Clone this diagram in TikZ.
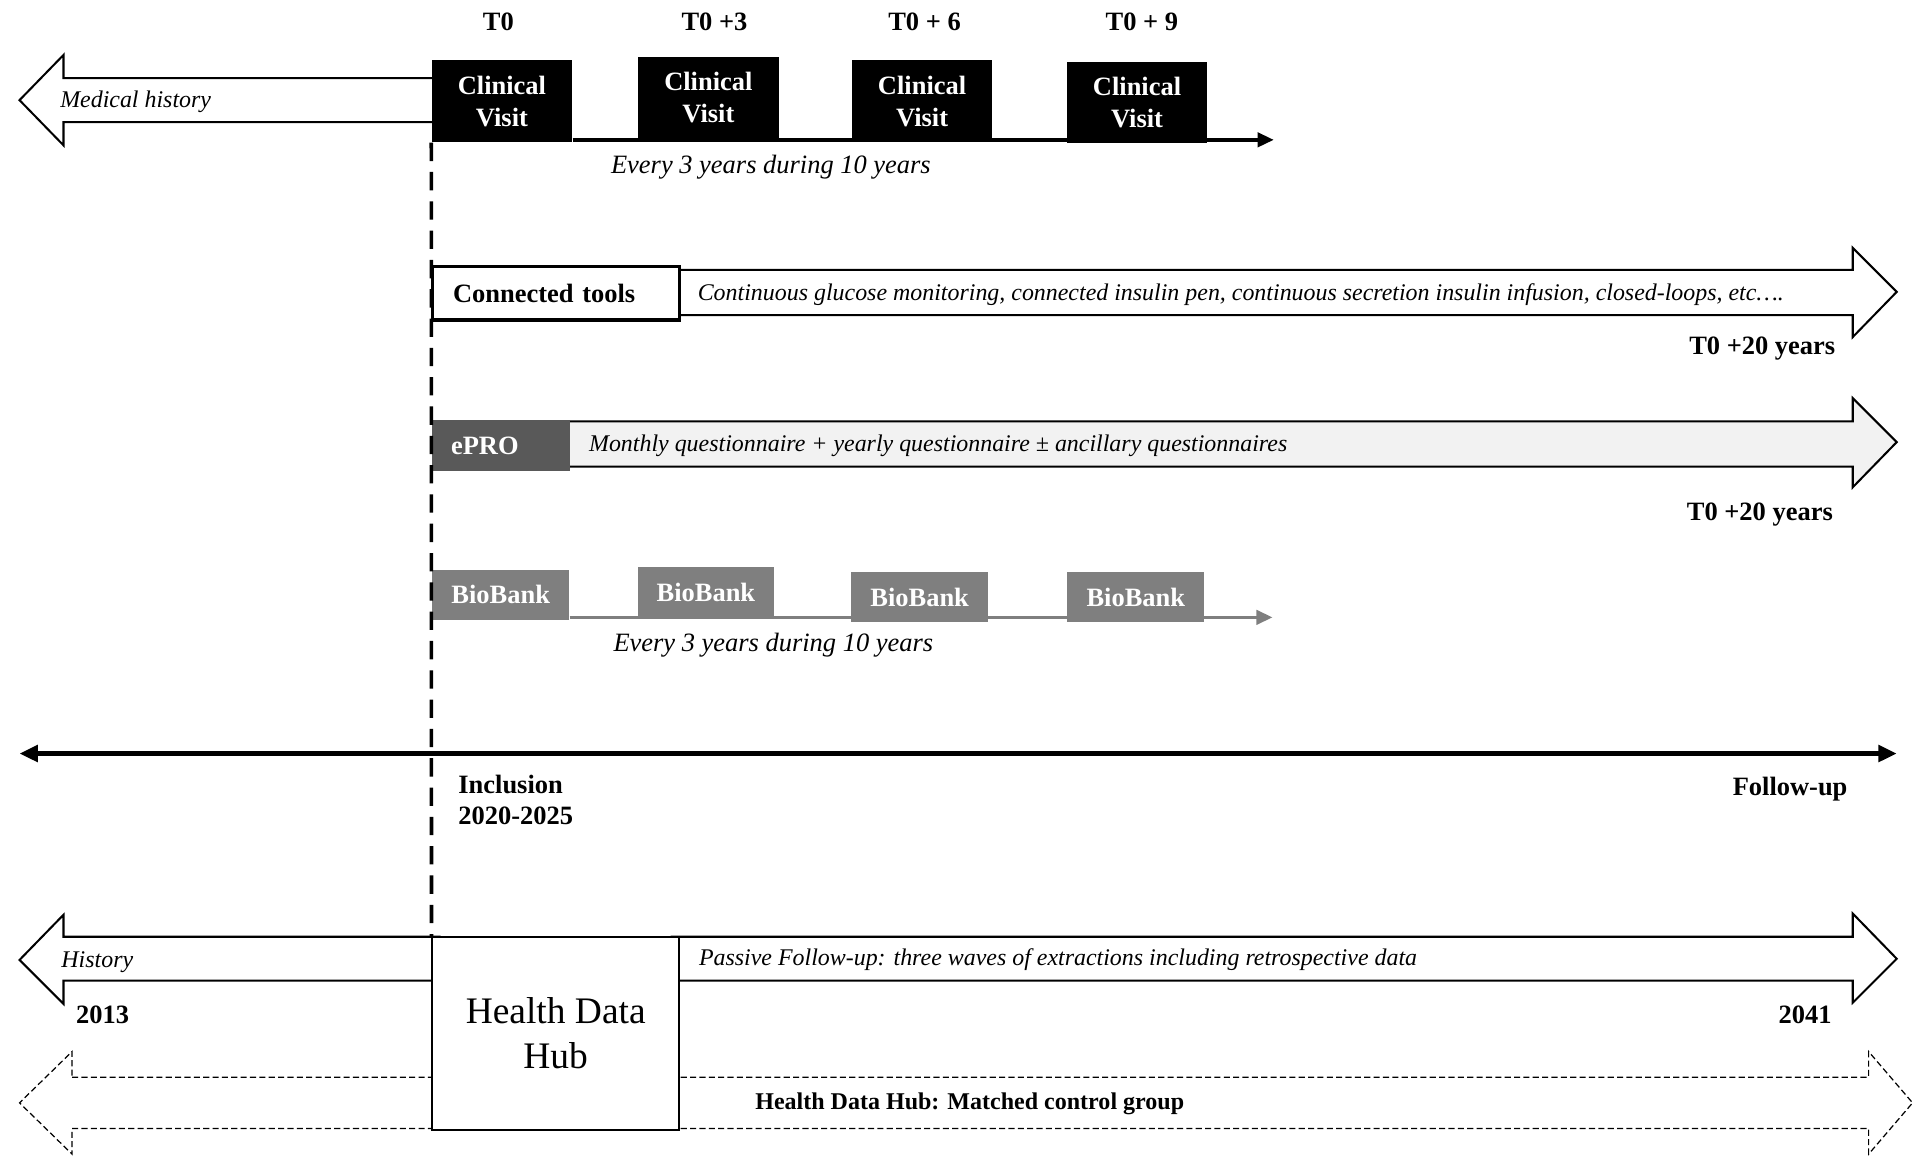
\documentclass[tikz,border=0pt]{standalone}
\usepackage{fontspec}
\setmainfont{Liberation Serif}
\usetikzlibrary{arrows.meta}
\definecolor{eprogray}{HTML}{595959}
\definecolor{bbgray}{HTML}{7F7F7F}
\definecolor{lightfill}{HTML}{F2F2F2}
\begin{document}
\begin{tikzpicture}[x=0.6pt,y=-0.6pt,
  cvbox/.style={fill=black,text=white,font=\bfseries\fontsize{13}{15.6}\selectfont,align=center,inner sep=0pt,minimum width=69pt,minimum height=40.2pt},
  bbbox/.style={fill=bbgray,text=white,font=\bfseries\fontsize{13}{15.6}\selectfont,inner sep=0pt,minimum width=67.2pt,minimum height=24.6pt},
  boldlbl/.style={font=\bfseries\fontsize{13}{15.6}\selectfont,inner sep=0pt},
  itsmall/.style={font=\itshape\fontsize{11.75}{14}\selectfont,inner sep=0pt},
  itbig/.style={font=\itshape\fontsize{13}{15.6}\selectfont,inner sep=0pt},
  blockarrow/.style={draw=black,line width=1pt,line join=miter},
  dasharrow/.style={draw=black,line width=0.6pt,dash pattern=on 3pt off 1.6pt,fill=white},
  cvline/.style={line width=1.8pt,-{Triangle[length=8pt,width=7pt]}},
  bbline/.style={draw=bbgray,line width=1.8pt,-{Triangle[length=8pt,width=7pt]},bbgray},
  tline/.style={line width=2.2pt,{Triangle[length=9pt,width=8pt]}-{Triangle[length=9pt,width=8pt]}},
  incl/.style={line width=1.8pt,dash pattern=on 9pt off 5.4pt}
]
\useasboundingbox (0,0) rectangle (1568,947);

% ---- Medical history arrow
\path[blockarrow,fill=white] (360,64) -- (52,64) -- (52,45) -- (16,82) -- (52,119) -- (52,100) -- (360,100) -- cycle;

% ---- Clinical visits
\node[cvbox] (cv1) at (411,83) {Clinical\\Visit};
\node[cvbox] (cv2) at (580,80) {Clinical\\Visit};
\node[cvbox] (cv3) at (755,83) {Clinical\\Visit};
\node[cvbox] (cv4) at (931,84) {Clinical\\Visit};
\coordinate (cvend) at (1043,114.5);
\draw[cvline] (cv1.east |- cvend) -- (cvend);

\node[boldlbl] (t0) at (408,18) {T0};
\node[boldlbl] (t3) at (585,18) {T0 +3};
\node[boldlbl] (t6) at (757,18) {T0 + 6};
\node[boldlbl] (t9) at (935,18) {T0 + 9};
\node[itsmall,anchor=west] (mh) at (49,83.5) {Medical history};
\node[itbig,anchor=west] (ev1) at (500,137) {Every 3 years during 10 years};

% ---- Connected tools
\path[blockarrow,fill=white] (550,221) -- (1517,221) -- (1517,203) -- (1553,239) -- (1517,276) -- (1517,258) -- (550,258) -- cycle;
\node[draw=black,line width=1.5pt,fill=white,anchor=west,minimum height=26.4pt,text width=101.2pt,inner xsep=10pt,inner ysep=0pt,align=left,font=\bfseries\fontsize{13}{15.6}\selectfont] (ct) at (353,240) {Connected tools};
\node[itsmall,anchor=west] (cttext) at (571,241) {Continuous glucose monitoring, connected insulin pen, continuous secretion insulin infusion, closed-loops, etc….};
\node[boldlbl,anchor=east] (t20a) at (1503,285) {T0 +20 years};

% ---- ePRO
\path[blockarrow,fill=lightfill] (460,345) -- (1517,345) -- (1517,326) -- (1553,362) -- (1517,399) -- (1517,382) -- (460,382) -- cycle;
\node[fill=eprogray,text=white,anchor=west,minimum height=25.2pt,text width=48.6pt,inner xsep=9.6pt,inner ysep=0pt,align=left,font=\bfseries\fontsize{13}{15.6}\selectfont] (epro) at (353,365) {ePRO};
\node[itsmall,anchor=west] (eprotext) at (482,365) {Monthly questionnaire + yearly questionnaire ± ancillary questionnaires};
\node[boldlbl,anchor=east] (t20b) at (1501,421) {T0 +20 years};

% ---- BioBank
\node[bbbox] (bb1) at (410,487) {BioBank};
\node[bbbox] (bb2) at (578,485) {BioBank};
\node[bbbox] (bb3) at (753,489) {BioBank};
\node[bbbox] (bb4) at (930,489) {BioBank};
\coordinate (bbend) at (1042,505.5);
\draw[bbline] (bb1.east |- bbend) -- (bbend);
\node[itbig,anchor=west] (ev2) at (502,528) {Every 3 years during 10 years};

% ---- Main timeline
\coordinate (tlL) at (16,617);
\coordinate (tlR) at (1553,617);
\draw[tline] (tlL) -- (tlR);
\node[boldlbl,anchor=north west,align=left] (inc) at (375,634) {Inclusion\\2020-2025};
\node[boldlbl,anchor=east] (fu) at (1513,646) {Follow-up};

% ---- Bottom: Health Data Hub
\path[dasharrow] (59,882) -- (1530,882) -- (1530,861) -- (1566,903) -- (1530,945) -- (1530,924) -- (59,924) -- (59,945) -- (16,903) -- (59,861) -- cycle;
\path[blockarrow,fill=white] (360,767) -- (52,767) -- (52,749) -- (16,786) -- (52,822) -- (52,803) -- (360,803) -- cycle;
\path[blockarrow,fill=white] (550,767) -- (1517,767) -- (1517,748) -- (1553,785) -- (1517,821) -- (1517,803) -- (550,803) -- cycle;
\node[draw=black,line width=0.9pt,fill=white,minimum width=121.2pt,minimum height=94.8pt,inner sep=0pt,align=center,font=\fontsize{18.4}{22.2}\selectfont] (hdh) at (455,846) {Health Data\\Hub};

\draw[incl] (cv1.south west) -- (hdh.north west);

\node[itsmall,anchor=west] (hist) at (50,787.5) {History};
\node[itsmall,anchor=west] (pass) at (572,786) {Passive Follow-up: three waves of extractions including retrospective data};
\node[boldlbl] (y2013) at (84,831) {2013};
\node[boldlbl] (y2041) at (1478,831) {2041};
\node[font=\bfseries\fontsize{11.8}{14}\selectfont,inner sep=0pt] (mcg) at (794,904) {Health Data Hub: Matched control group};
\end{tikzpicture}
\end{document}
